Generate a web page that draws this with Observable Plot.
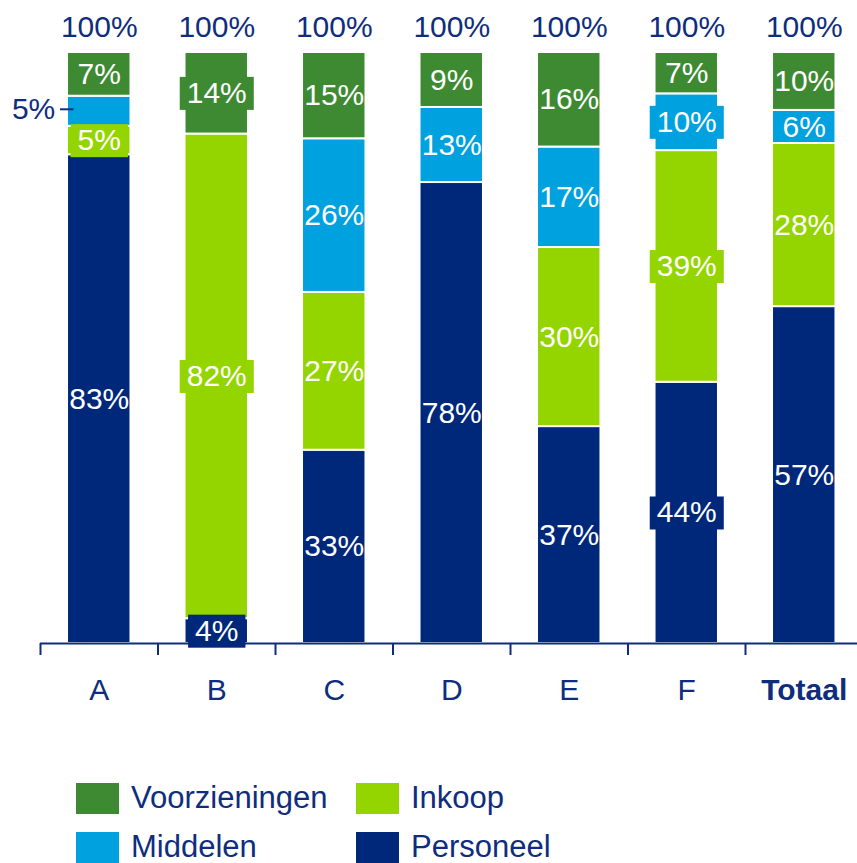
<!DOCTYPE html>
<html><head><meta charset="utf-8">
<script src="https://cdn.jsdelivr.net/npm/d3@7"></script>
<script src="https://cdn.jsdelivr.net/npm/@observablehq/plot@0.6"></script>
<style>
body{margin:0;background:#fff;font-family:"Liberation Sans",Arial,sans-serif;}
#legend{display:grid;grid-template-columns:280px auto;row-gap:17px;padding-left:76px;margin-top:12px;}
.item{display:flex;align-items:center;gap:12px;font-size:31px;color:#0f2d7e;height:32px;}
.sw{width:43px;height:31px;flex:none;}
</style></head><body><div id="chart"></div><div id="legend"></div>
<script>
const categories = ["A","B","C","D","E","F","Totaal"];
const series = ["Personeel","Inkoop","Middelen","Voorzieningen"];
const personeel     = [82.7, 4.2, 32.7, 78.0, 36.7, 44.2, 57.0];
const inkoop        = [4.8, 82.0, 26.7, 0, 30.3, 39.2, 27.6];
const middelen      = [5.1, 0, 26.0, 12.7, 17.0, 9.6, 5.6];
const voorzieningen = [7.4, 13.8, 14.6, 9.3, 16.0, 7.0, 9.8];
const totals = [100,100,100,100,100,100,100];
const colors = ["#00287a", "#94d500", "#00a1df", "#3e8a32"];
const legendOrder = ["Voorzieningen","Inkoop","Middelen","Personeel"];
const boxed = ["A|Inkoop","B|Voorzieningen","B|Inkoop","B|Personeel","F|Middelen","F|Inkoop","F|Personeel"];
const outside = ["A|Middelen"];
const navy = "#0f2d7e";

const seriesValues = [personeel, inkoop, middelen, voorzieningen];
const rows = [];
categories.forEach((c, i) => series.forEach((s, j) => rows.push({cat: c, series: s, value: seriesValues[j][i]})));
const key = d => d.cat + "|" + d.series;
const fmt = d => d3.format(".0f")(d.value) + "%";
const colorOf = s => colors[series.indexOf(s)];
const isOutside = d => outside.includes(key(d));
const isBoxed = d => boxed.includes(key(d));

const x0 = 40, x1 = 862.5;
const step = (x1 - x0) / categories.length;
const stk = o => Plot.stackY({x: "cat", y: "value", z: "series", order: series, ...o});
const tag = name => (index, scales, values, dims, context, next) => {
  const g = next(index, scales, values, dims, context);
  if (g) g.setAttribute("data-role", name);
  return g;
};

const svg = Plot.plot({
  width: 857, height: 770,
  marginLeft: 40, marginRight: 0, marginTop: 52, marginBottom: 127,
  x: {domain: categories, range: [x0, x1], paddingInner: 0.46, paddingOuter: 0.23, round: false, axis: null, label: null},
  y: {domain: [0, 100], axis: null},
  color: {domain: series, range: colors},
  style: {fontFamily: "'Liberation Sans', Arial, sans-serif", background: "white"},
  marks: [
    Plot.barY(rows, stk({fill: "series", stroke: "white", strokeWidth: 2})),
    Plot.ruleY([0], {stroke: navy, strokeWidth: 2}),
    Plot.axisX({tickSize: 12, tickFormat: () => "", label: null, stroke: navy, strokeWidth: 2, dx: -step / 2}),
    Plot.text(categories.filter(c => c !== "Totaal"), {x: d => d, frameAnchor: "bottom", lineAnchor: "middle", dy: 47, fontSize: 30, fill: navy}),
    Plot.text(categories.filter(c => c === "Totaal"), {x: d => d, frameAnchor: "bottom", lineAnchor: "middle", dy: 47, fontSize: 30, fontWeight: "bold", fill: navy}),
    Plot.text(categories, {x: d => d, y: (d, i) => totals[i], text: (d, i) => totals[i] + "%", dy: -25, fontSize: 30, fill: navy}),
    Plot.text(rows, stk({text: d => (d.value > 0 && !isOutside(d) && !isBoxed(d)) ? fmt(d) : null, fill: "white", fontSize: 30})),
    Plot.text(rows, stk({text: d => isOutside(d) ? fmt(d) : null, fill: navy, fontSize: 30, textAnchor: "end", dx: -44, dy: -2})),
    Plot.tickY(rows, stk({strokeOpacity: d => isOutside(d) ? 1 : 0, stroke: navy, strokeWidth: 2, insetLeft: -7, insetRight: 57, dy: -2})),
    Plot.text(rows, stk({text: d => isBoxed(d) ? fmt(d) : null, fill: "white", fontSize: 30, render: tag("boxed")}))
  ]
});
document.getElementById("chart").append(svg);

// label background boxes
const boxedRows = rows.filter(isBoxed);
svg.querySelectorAll('[data-role="boxed"] text').forEach((t, i) => {
  const b = t.getBBox();
  const r = document.createElementNS("http://www.w3.org/2000/svg", "rect");
  r.setAttribute("x", b.x - 7);
  r.setAttribute("y", b.y + 1);
  r.setAttribute("width", b.width + 14);
  r.setAttribute("height", b.height);
  const tr = t.getAttribute("transform");
  if (tr) r.setAttribute("transform", tr);
  r.setAttribute("fill", colorOf(boxedRows[i].series));
  t.parentNode.insertBefore(r, t);
});

// legend
const legend = document.getElementById("legend");
legendOrder.forEach(s => {
  const it = document.createElement("div");
  it.className = "item";
  it.innerHTML = `<span class="sw" style="background:${colorOf(s)}"></span><span>${s}</span>`;
  legend.append(it);
});
</script>
</body></html>
